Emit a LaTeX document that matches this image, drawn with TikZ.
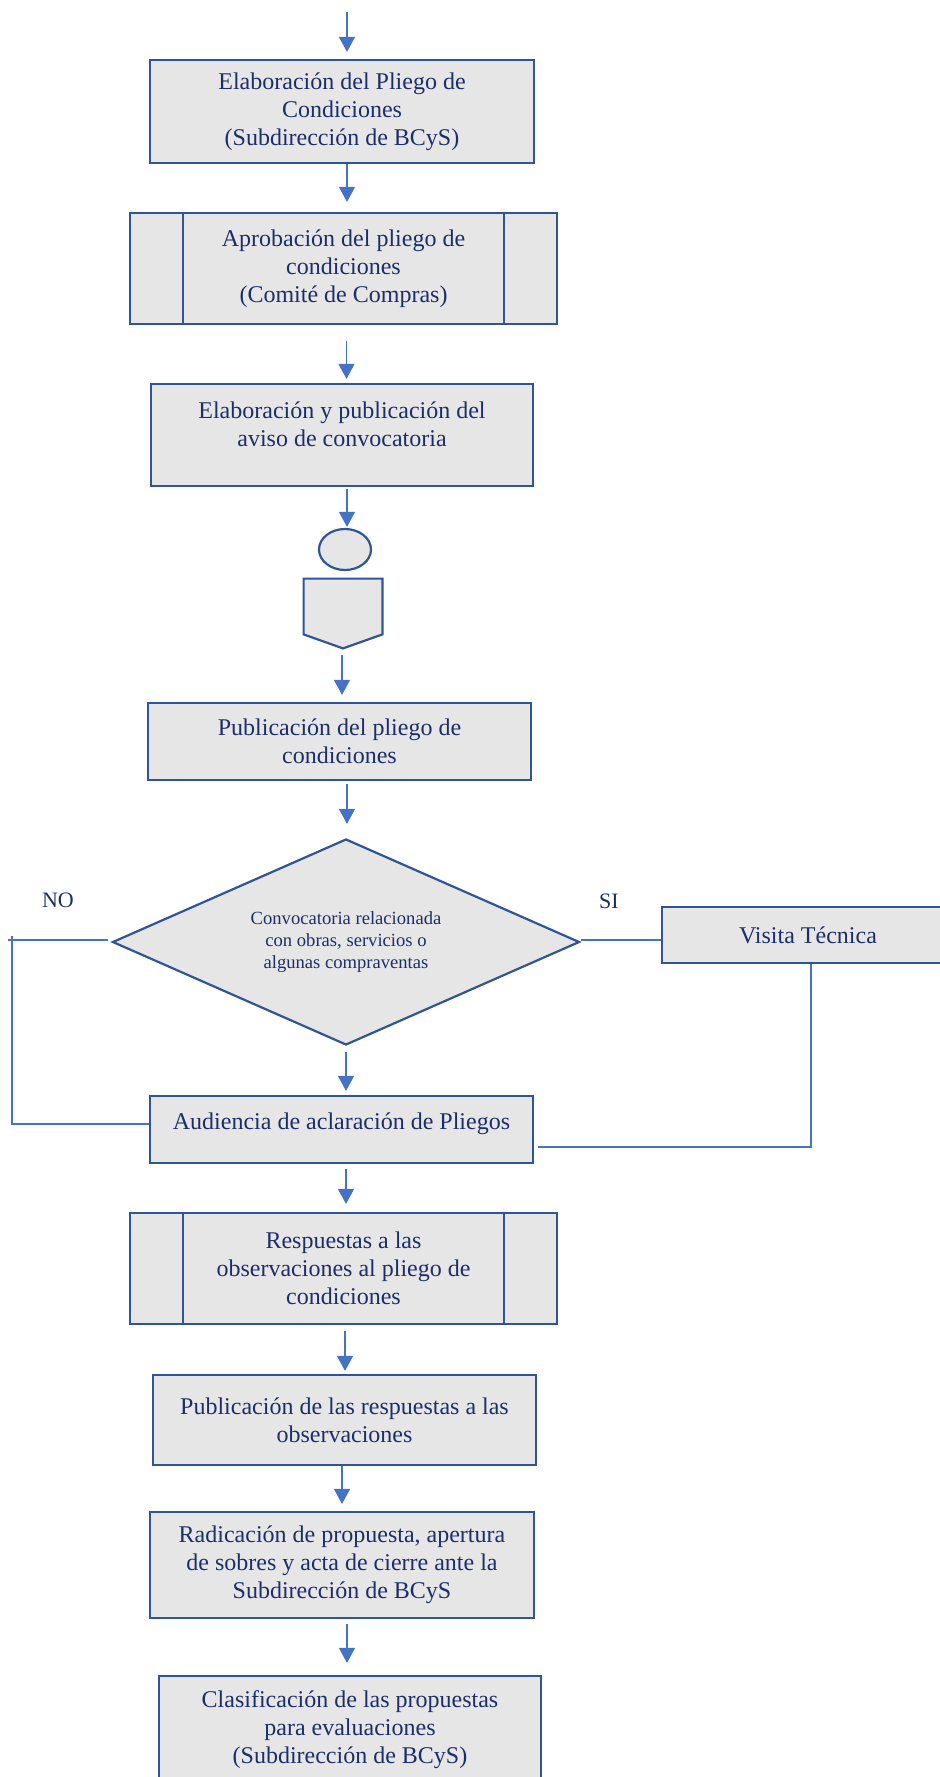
\documentclass[tikz,border=0pt]{standalone}
\usepackage{fontspec}
\setmainfont{Liberation Serif}
\usetikzlibrary{shapes.geometric,arrows.meta}
\definecolor{boxfill}{RGB}{231,230,230}
\definecolor{boxline}{RGB}{47,85,151}
\definecolor{arrowblue}{RGB}{68,114,196}
\definecolor{textnavy}{RGB}{28,46,105}
\begin{document}
\begin{tikzpicture}[x=0.5pt,y=-0.5pt,
  every node/.style={font=\fontsize{12}{14}\selectfont, text=textnavy},
  proc/.style={draw=boxline, line width=1.1pt, fill=boxfill, rectangle,
    align=center, inner sep=0pt},
  plain/.style={draw=boxline, line width=1.1pt, fill=boxfill},
  arr/.style={draw=arrowblue, line width=0.6pt,
    -{Triangle[width=8pt,length=7.5pt]}},
  link/.style={draw=arrowblue, line width=0.6pt},
  lbl/.style={font=\fontsize{11}{13}\selectfont},
]
\path[use as bounding box] (0,0) rectangle (940,1777);

% process boxes
\node[proc, minimum width=192pt, minimum height=51.5pt] (b1) at (342,111.5)
  {Elaboración del Pliego de\\Condiciones\\(Subdirección de BCyS)};
\node[proc, minimum width=213.5pt, minimum height=55.5pt] (b2) at (343.5,268.5)
  {Aprobación del pliego de\\condiciones\\(Comité de Compras)};
\node[proc, minimum width=191pt, minimum height=51pt, text depth=11pt] (b3) at (342,435)
  {Elaboración y publicación del\\aviso de convocatoria};
\node[ellipse, plain, minimum width=26pt, minimum height=20.5pt, inner sep=0pt] (conn) at (345,549.5) {};
\node[inner sep=0pt, minimum width=39pt, minimum height=34.5pt] (opc) at (343,613.5) {};
\node[proc, minimum width=191.5pt, minimum height=38.5pt] (b4) at (339.5,741.5)
  {Publicación del pliego de\\condiciones};
\node[diamond, plain, aspect=2.267, minimum width=233.5pt, minimum height=103pt,
  inner sep=0pt, align=center, font=\fontsize{9.3}{10.9}\selectfont] (dec) at (346,942)
  {Convocatoria relacionada\\con obras, servicios o\\algunas compraventas};
\node[proc, minimum width=146pt, minimum height=28pt] (vis) at (808,935) {Visita Técnica};
\node[proc, minimum width=191.5pt, minimum height=33.5pt, text depth=8pt] (aud) at (341.5,1129.5)
  {Audiencia de aclaración de Pliegos};
\node[proc, minimum width=213.5pt, minimum height=55.5pt] (b6) at (343.5,1268.5)
  {Respuestas a las\\observaciones al pliego de\\condiciones};
\node[proc, minimum width=191.5pt, minimum height=45pt] (b7) at (344.5,1420)
  {Publicación de las respuestas a las\\observaciones};
\node[proc, minimum width=192pt, minimum height=53pt] (b8) at (342,1565)
  {Radicación de propuesta, apertura\\de sobres y acta de cierre ante la\\Subdirección de BCyS};
\node[proc, minimum width=191pt, minimum height=54pt] (b9) at (350,1730)
  {Clasificación de las propuestas\\para evaluaciones\\(Subdirección de BCyS)};

% side bars of the predefined-process boxes
\foreach \b in {b2,b6}{
  \draw[draw=boxline, line width=1.1pt] ([xshift=27pt]\b.north west) -- ([xshift=27pt]\b.south west);
  \draw[draw=boxline, line width=1.1pt] ([xshift=-27pt]\b.north east) -- ([xshift=-27pt]\b.south east);
}

% off-page connector
\draw[plain, line join=miter] (opc.north west) -- (opc.north east) -- ([yshift=7pt]opc.south east)
  -- (opc.south) -- ([yshift=7pt]opc.south west) -- cycle;

% branch labels
\node[lbl] (no) at (58,900) {NO};
\node[lbl] (si) at (609,901) {SI};

% main flow arrows
\coordinate (start) at (347,12);
\draw[arr, shorten >=3.5pt] (start) -- (start |- b1.north);
\draw[arr, shorten >=5pt] ([xshift=2.5pt]b1.south) -- ([xshift=2.5pt]b1.south |- b2.north);
\draw[arr, shorten <=8pt, shorten >=2pt] ([xshift=1.5pt]b2.south) -- ([xshift=1.5pt]b2.south |- b3.north);
\draw[arr, shorten <=1pt, shorten >=0.5pt] ([xshift=2.5pt]b3.south) -- ([xshift=2.5pt]b3.south |- conn.north);
\draw[arr, shorten <=3.5pt, shorten >=3.5pt] ([xshift=-0.5pt]opc.south) -- ([xshift=-0.5pt]opc.south |- b4.north);
\draw[arr, shorten <=1.5pt, shorten >=7pt] ([xshift=3.75pt]b4.south) -- ([xshift=3.75pt]b4.south |- dec.north);
\draw[arr, shorten <=3pt, shorten >=2pt] (dec.south) -- (dec.south |- aud.north);
\draw[arr, shorten <=2.5pt, shorten >=4pt] ([xshift=2.25pt]aud.south) -- ([xshift=2.25pt]aud.south |- b6.north);
\draw[arr, shorten <=3pt, shorten >=1.5pt] ([xshift=0.75pt]b6.south) -- ([xshift=0.75pt]b6.south |- b7.north);
\draw[arr, shorten >=3.5pt] ([xshift=-1.25pt]b7.south) -- ([xshift=-1.25pt]b7.south |- b8.north);
\draw[arr, shorten <=2.5pt, shorten >=6pt] ([xshift=2.5pt]b8.south) -- ([xshift=2.5pt]b8.south |- b9.north);

% NO branch
\coordinate (noL) at (12,940);
\draw[link] ([xshift=-1.5pt,yshift=1pt]dec.west) -- ([xshift=-2pt]noL);
\draw[link] ([yshift=2pt]noL) |- ([yshift=2.75pt]aud.west);

% SI branch
\draw[link] ([yshift=1pt]dec.east) -- ([yshift=1pt]dec.east -| vis.west);
\draw[link] ([xshift=1.5pt]vis.south) |- ([xshift=2pt,yshift=-8.75pt]aud.east);
\end{tikzpicture}
\end{document}
